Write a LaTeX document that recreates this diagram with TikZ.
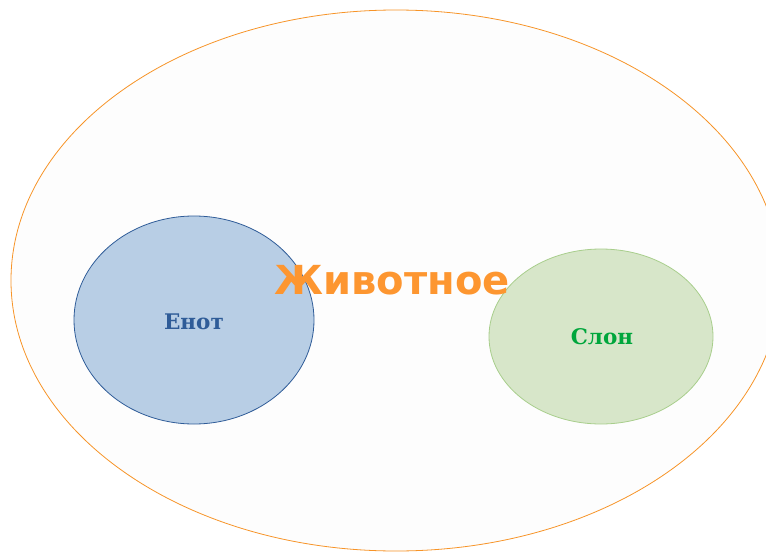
\documentclass[tikz,border=0pt]{standalone}
\usepackage{fontspec}
\newfontfamily\outerfont{DejaVu Sans}
\newfontfamily\innerfont{DejaVu Serif}
\usetikzlibrary{shapes.geometric}
\definecolor{outerLine}{RGB}{247,148,40}
\definecolor{outerText}{RGB}{253,150,48}
\definecolor{outerFill}{RGB}{253,253,253}
\definecolor{enotFill}{RGB}{184,206,229}
\definecolor{enotLine}{RGB}{47,92,152}
\definecolor{slonFill}{RGB}{215,230,201}
\definecolor{slonLine}{RGB}{168,206,140}
\definecolor{slonText}{RGB}{0,166,60}
\tikzstyle{setNode}=[draw,ellipse,inner sep=0pt,line width=0.8pt]
\tikzstyle{setLabel}=[inner sep=0pt,anchor=base]

\begin{document}
\begin{tikzpicture}[x=1pt,y=-1pt]
	\useasboundingbox (0,0) rectangle (766,554);
	
	\node[setNode, draw=outerLine, fill=outerFill, minimum width=770pt, minimum height=541pt] (animal) at (396, 280.5) {};
	\node[setNode, draw=enotLine, fill=enotFill, minimum width=240pt, minimum height=208pt] (raccoon) at (194, 320) {};
	\node[setNode, draw=slonLine, fill=slonFill, minimum width=224pt, minimum height=175pt] (elephant) at (601, 336.5) {};
	
	\node[setLabel, text=enotLine, font=\innerfont\bfseries\fontsize{21.5}{21.5}\selectfont] (lraccoon) at (194, 329) {Енот};
	\node[setLabel, text=slonText, font=\innerfont\bfseries\fontsize{21.5}{21.5}\selectfont] (lelephant) at (602, 344) {Слон};
	\node[setLabel, text=outerText, font=\outerfont\bfseries\fontsize{40}{40}\selectfont] (lanimal) at (392, 294) {Животное};
\end{tikzpicture}
\end{document}
